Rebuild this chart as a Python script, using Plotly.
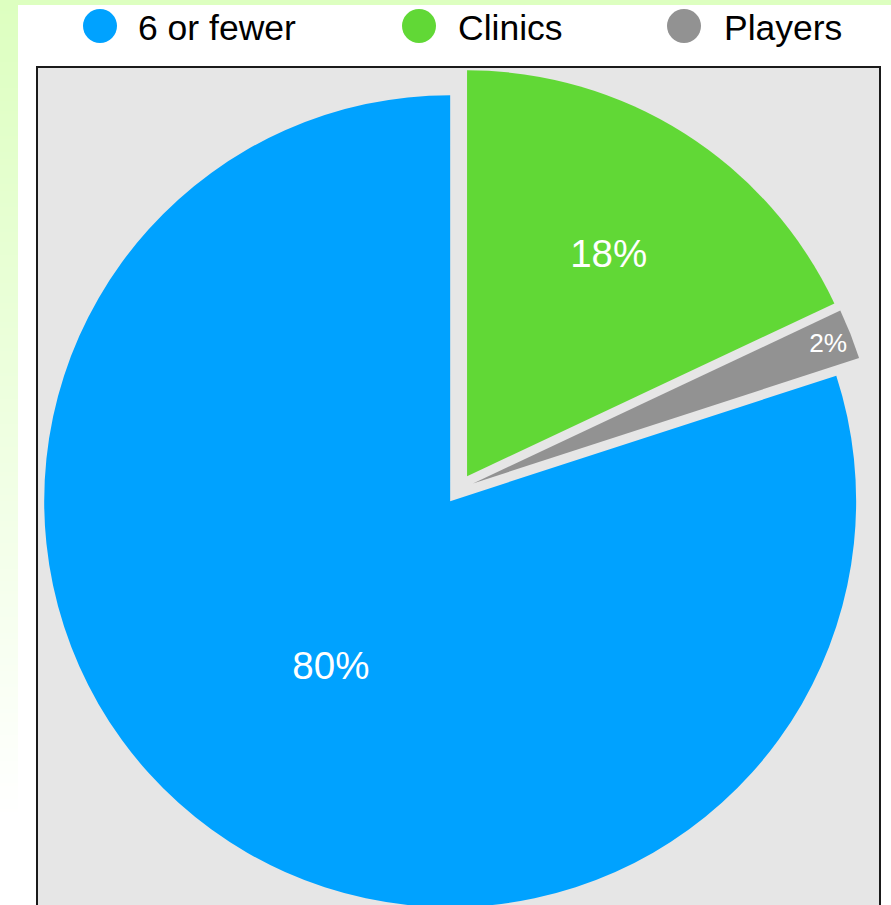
import base64
import struct
import zlib
import plotly.graph_objects as go

# ---- data ----
categories = ["6 or fewer", "Clinics", "Players"]
values = [80, 18, 2]
colors = ["#00a2ff", "#61d836", "#929292"]

# ---- layout constants (pixels) ----
W, H = 891, 925
FONT = "Liberation Sans"


def px(x):
    return x / W


def py(y):
    return 1 - y / H


def gradient_png(top, bottom, n=256):
    raw = b""
    for i in range(n):
        t = i / (n - 1)
        c = [round(a + (b - a) * t) for a, b in zip(top, bottom)]
        raw += b"\x00" + bytes(c)

    def chunk(tag, data):
        return (struct.pack(">I", len(data)) + tag + data
                + struct.pack(">I", zlib.crc32(tag + data) & 0xFFFFFFFF))

    png = (b"\x89PNG\r\n\x1a\n"
           + chunk(b"IHDR", struct.pack(">IIBBBBB", 1, n, 8, 2, 0, 0, 0))
           + chunk(b"IDAT", zlib.compress(raw))
           + chunk(b"IEND", b""))
    return "data:image/png;base64," + base64.b64encode(png).decode()


fig = go.Figure()
fig.add_trace(go.Pie(
    labels=categories,
    values=values,
    marker=dict(colors=colors, line=dict(width=0)),
    sort=False,
    direction="clockwise",
    rotation=72,
    pull=[0.037] * len(values),
    textinfo="percent",
    textposition="inside",
    insidetextorientation="horizontal",
    textfont=dict(color="white", size=38.5, family=FONT),
    domain=dict(x=[px(38), px(880)], y=[py(912), py(66)]),
    showlegend=False,
    hoverinfo="label+percent",
))

shapes = [
    # top green strip
    dict(type="rect", xref="paper", yref="paper", x0=0, x1=1, y0=py(5), y1=1.01,
         fillcolor="#ddffc0", line=dict(width=0), layer="below"),
    # plot box
    dict(type="rect", xref="paper", yref="paper", x0=px(37), x1=px(880),
         y0=-0.05, y1=py(67), fillcolor="#e6e6e6",
         line=dict(color="#1a1a1a", width=2), layer="below"),
]

annotations = []
LEG_Y = 26
LEG_R = 17
leg_cx = [100, 419, 684]
leg_tx = [136, 456, 722]
for name, col, cx, tx in zip(categories, colors, leg_cx, leg_tx):
    shapes.append(dict(type="circle", xref="paper", yref="paper",
                       x0=px(cx - LEG_R), x1=px(cx + LEG_R),
                       y0=py(LEG_Y + LEG_R), y1=py(LEG_Y - LEG_R),
                       fillcolor=col, line=dict(width=0)))
    annotations.append(dict(text=name, xref="paper", yref="paper",
                            x=px(tx), y=py(LEG_Y + 1.5), xanchor="left", yanchor="middle",
                            showarrow=False, font=dict(size=35.5, color="black", family=FONT)))

fig.update_layout(
    width=W,
    height=H,
    margin=dict(l=0, r=0, t=0, b=0),
    paper_bgcolor="white",
    shapes=shapes,
    annotations=annotations,
    images=[dict(source=gradient_png((221, 255, 192), (255, 255, 255)),
                 xref="paper", yref="paper", x=0, y=1, sizex=px(18), sizey=820 / H,
                 xanchor="left", yanchor="top", sizing="stretch", layer="below")],
    font=dict(family=FONT),
)

fig.write_html(
    "out.html",
    config={"displayModeBar": False},
    post_script="document.body.style.margin='0px';document.body.style.overflow='hidden';",
)
